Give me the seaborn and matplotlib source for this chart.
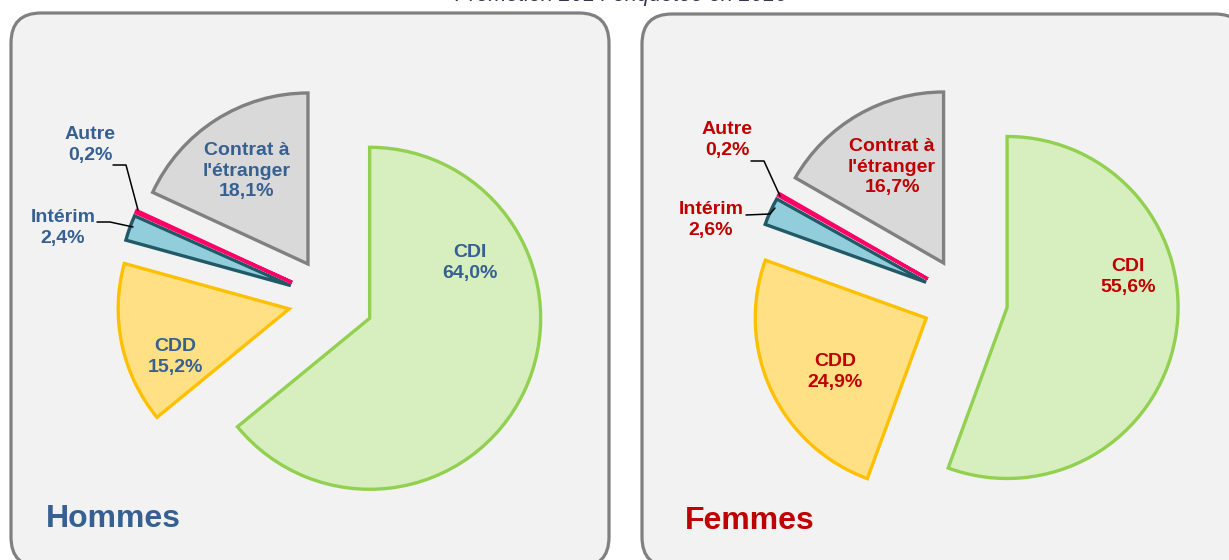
import matplotlib
matplotlib.use("Agg")
import matplotlib.pyplot as plt
from matplotlib.patches import FancyBboxPatch
import seaborn as sns

sns.set_theme(style="white")
plt.rcParams['font.family'] = ['Liberation Sans', 'DejaVu Sans']

# ---- data ----
categories = ["CDI", "CDD", "Intérim", "Autre", "Contrat à\nl'étranger"]
hommes = [64.0, 15.2, 2.4, 0.2, 18.1]
femmes = [55.6, 24.9, 2.6, 0.2, 16.7]
hommes_labels = ["64,0%", "15,2%", "2,4%", "0,2%", "18,1%"]
femmes_labels = ["55,6%", "24,9%", "2,6%", "0,2%", "16,7%"]
title = "Promotion 2014 enquêtée en 2016"

face_colors = ["#d7eebf", "#ffe085", "#92cddc", "#ff1f6f", "#d9d9d9"]
edge_colors = ["#92d050", "#ffc000", "#215967", "#ff0066", "#808080"]

W, H = 1229, 560
fig = plt.figure(figsize=(W / 100, H / 100), dpi=100)
ax = fig.add_axes([0, 0, 1, 1])


def py(y):
    return H - y


def draw_panel(x0, x1, y0, y1):
    box = FancyBboxPatch((x0, py(y1)), x1 - x0, y1 - y0,
                         boxstyle="round,pad=0,rounding_size=30",
                         facecolor="#f2f2f2", edgecolor="#808080",
                         linewidth=2.3, zorder=0)
    ax.add_patch(box)


draw_panel(11, 609, 13, 567)
draw_panel(642, 1245, 14, 567)

R = 171


def draw_pie(values, center):
    wedges, _ = ax.pie(values, colors=face_colors, startangle=90,
                       counterclock=False, explode=[0.25 * R] * len(values),
                       center=(center[0], py(center[1])), radius=R,
                       wedgeprops=dict(linewidth=2.4), normalize=True)
    for w, ec in zip(wedges, edge_colors):
        w.set_edgecolor(ec)
        w.set_zorder(2)
    return wedges


draw_pie(hommes, (331, 300))
draw_pie(femmes, (965, 300))

label_kw = dict(ha="center", va="center", fontsize=14, fontweight="bold",
                linespacing=1.3, zorder=5)


def put_labels(labels, positions, color):
    for cat, lab, (x, y) in zip(categories, labels, positions):
        ax.text(x, py(y), f"{cat}\n{lab}", color=color, **label_kw)


blue = "#376092"
red = "#c00000"
put_labels(hommes_labels,
           [(470, 263), (175, 357), (63, 228), (90, 145), (247, 171)], blue)
put_labels(femmes_labels,
           [(1128, 277), (835, 372), (711, 220), (727, 140), (892, 167)], red)

# leader lines
lk = dict(color="black", linewidth=1.1, zorder=4)
ax.plot([113, 126, 138], [py(165), py(165), py(210)], **lk)
ax.plot([97, 110, 133], [py(222), py(222), py(227)], **lk)
ax.plot([751, 764, 780], [py(161), py(161), py(196)], **lk)
ax.plot([746, 770, 775], [py(215), py(214), py(208)], **lk)

ax.text(46, py(527), "Hommes", color=blue, fontsize=23, fontweight="bold",
        ha="left", va="baseline")
ax.text(685, py(529), "Femmes", color=red, fontsize=23, fontweight="bold",
        ha="left", va="baseline")

ax.text(621, py(1.5), title, color="#3f3151", fontsize=15.5, style="italic",
        ha="center", va="baseline")

ax.set_xlim(0, W)
ax.set_ylim(0, H)
ax.set_aspect("auto")
ax.axis("off")

fig.savefig("out.png", dpi=100, facecolor="white")
